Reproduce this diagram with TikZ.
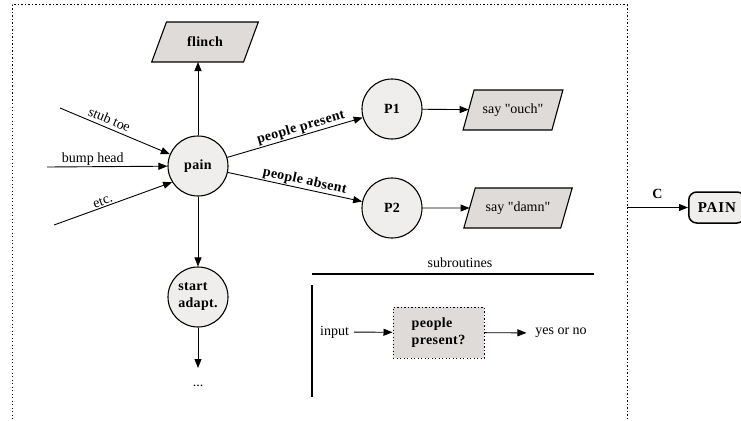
\documentclass[tikz,border=0pt]{standalone}
\usepackage{fontspec}
\setmainfont{Liberation Serif}[Ligatures=TeXOff]
\newfontfamily\bsp[LetterSpace=2.5,Ligatures=TeXOff]{Liberation Serif}
\newfontfamily\bwide[LetterSpace=6]{Liberation Serif}
\usetikzlibrary{arrows.meta,shapes.geometric}
\definecolor{circfill}{HTML}{EFEEED}
\definecolor{parfill}{HTML}{DEDBD8}
\begin{document}
\fontsize{14}{17}\selectfont
\begin{tikzpicture}[x=1pt,y=-1pt,
  circ/.style={circle, draw, line width=1.1pt, fill=circfill, minimum size=60pt, inner sep=0pt, font=\bsp\bfseries, align=left},
  para/.style={trapezium, trapezium left angle=65.8, trapezium right angle=114.2, trapezium stretches=true, draw, line width=1.1pt, fill=parfill, minimum height=40pt, outer sep=0pt},
  arr/.style={-{Triangle[length=9pt,width=7pt]}, line width=0.9pt},
  elbl/.style={inner sep=1pt},
  bold/.style={font=\bsp\bfseries},
  frame/.style={line width=1pt, dash pattern=on 1.3pt off 2.2pt},
  thick rule/.style={line width=2pt}
]
\useasboundingbox (0,0) rectangle (741,420);
\clip (0,0) rectangle (741,420);

% outer dotted frame
\draw[frame] (12,5) rectangle (627,440);

% main nodes
\node[circ] (pain) at (198,166) {pain};
\node[circ] (P1) at (392,109) {P1};
\node[circ] (P2) at (392,208) {P2};
\node[circ] (start) at (198,297) {start\\adapt.};
\node[para, minimum width=107pt, bold] (flinch) at (205,42) {flinch};
\node[para, minimum width=100pt] (ouch) at (513,110) {say "ouch"};
\node[para, minimum width=109pt] (damn) at (518,208) {say "damn"};

% inputs
\coordinate (st) at (60,108);
\coordinate (bh) at (47,167);
\coordinate (et) at (54,225);
\draw[arr] (st) -- (pain) node[inner sep=3.5pt, pos=0.42, above, sloped] {stub toe};
\draw[arr] (bh) -- (pain) node[inner sep=0.3pt, pos=0.38, above] {bump head};
\draw[arr] (et) -- (pain.212) node[elbl, pos=0.43, above, sloped] {etc.};

% outputs
\draw[arr] (pain) -- (pain |- flinch.south);
\draw[arr] (pain) -- (P1) node[elbl, pos=0.56, above, sloped, bold] {people present};
\draw[arr] (pain) -- (P2) node[elbl, pos=0.56, above, sloped, bold] {people absent};
\draw[arr] (P1) -- (ouch);
\draw[arr] (P2) -- (damn);
\draw[arr] (pain) -- (start);
\coordinate (adend) at (198,368);
\draw[arr] (start) -- (adend);
\node[anchor=base] (dots) at (198,386) {...};

% subroutines
\node (sub) at (460,263) {subroutines};
\coordinate (subL) at (312,274);
\coordinate (subR) at (594,274);
\draw[thick rule] (subL) -- (subR);
\coordinate (vT) at (312,285);
\coordinate (vB) at (312,397);
\draw[thick rule] (vT) -- (vB);
\node[draw, frame, fill=parfill, minimum width=91pt, minimum height=51pt, bold, align=left] (pp) at (438.5,332.5) {people\\present?};
\node (input) at (334.5,332) {input};
\node (yn) at (561,333) {yes or no};
\draw[arr] (input) -- (pp);
\draw[arr, shorten >=4pt] (pp) -- (yn);

% PAIN
\node[draw, rounded corners=8pt, line width=1.5pt, fill=circfill, font=\fontsize{15}{18}\bwide\bfseries, minimum height=31pt, inner xsep=9pt, anchor=west] (PAINn) at (688,207.5) {PAIN};
\coordinate (fr) at (627,207.5);
\draw[arr] (fr) -- (fr -| PAINn.west) node[midway, above=4pt, bold] {C};
\end{tikzpicture}
\end{document}
